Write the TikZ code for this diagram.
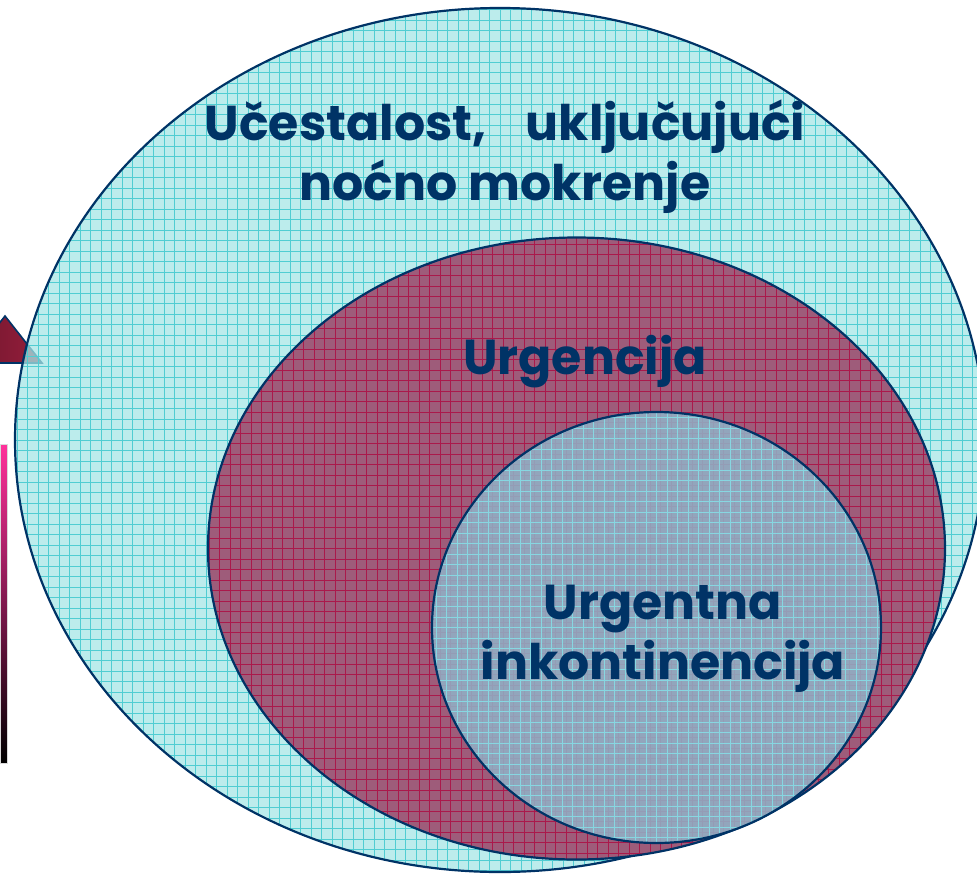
\documentclass[tikz,border=0pt]{standalone}
\usepackage{fontspec}
\setmainfont{Poppins}
\usetikzlibrary{shapes.geometric}
\definecolor{navy}{RGB}{0,51,102}
\definecolor{skyfill}{RGB}{165,230,230}
\definecolor{skygrid}{RGB}{80,205,210}
\definecolor{plumfill}{RGB}{158,92,122}
\definecolor{plumgrid}{RGB}{170,25,75}
\definecolor{mistfill}{RGB}{145,180,200}
\definecolor{mistgrid}{RGB}{135,215,225}
\definecolor{barpink}{RGB}{255,50,155}
\definecolor{wine}{RGB}{150,30,60}

\begin{document}
\begin{tikzpicture}[x=1pt,y=-1pt,
  blob/.style={ellipse,draw=navy,line width=2.2pt,inner sep=0pt},
  cells/.style={path picture={\draw[#1,line width=0.55pt]
      (path picture bounding box.south west) grid[step=10.5pt]
      (path picture bounding box.north east);}},
  lbl/.style={text=navy,font=\bfseries\fontsize{49}{60}\selectfont,align=center,inner sep=0pt}
]
\useasboundingbox (0,0) rectangle (977,873);

% left side bits
\shade[left color=wine!75!black,right color=wine,draw=navy,line width=1.6pt]
  (-32,363) -- (5,316) -- (42,363) -- cycle;
\shade[top color=barpink,bottom color=black,draw=gray!30,line width=0.6pt]
  (0,444) rectangle (7,763);

% nested sets
\node[blob,fill=skyfill,fill opacity=0.75,cells=skygrid,
  minimum width=970pt,minimum height=864pt] (freq) at (500,440) {};
\node[blob,fill=plumfill,cells=plumgrid,
  minimum width=737pt,minimum height=622pt] (urg) at (576.5,548.5) {};
\node[blob,fill=mistfill,fill opacity=0.85,cells=mistgrid,
  minimum width=449pt,minimum height=431pt] (inc) at (656.5,627.5) {};

% labels
\node[lbl] (freqtxt) at (505,157) {Učestalost,\hspace{0.8em}uključujući\\noćno mokrenje};
\node[lbl] (urgtxt) at (585,362) {Urgencija};
\node[lbl] (inctxt) at (663,639) {Urgentna\\inkontinencija};
\end{tikzpicture}
\end{document}
